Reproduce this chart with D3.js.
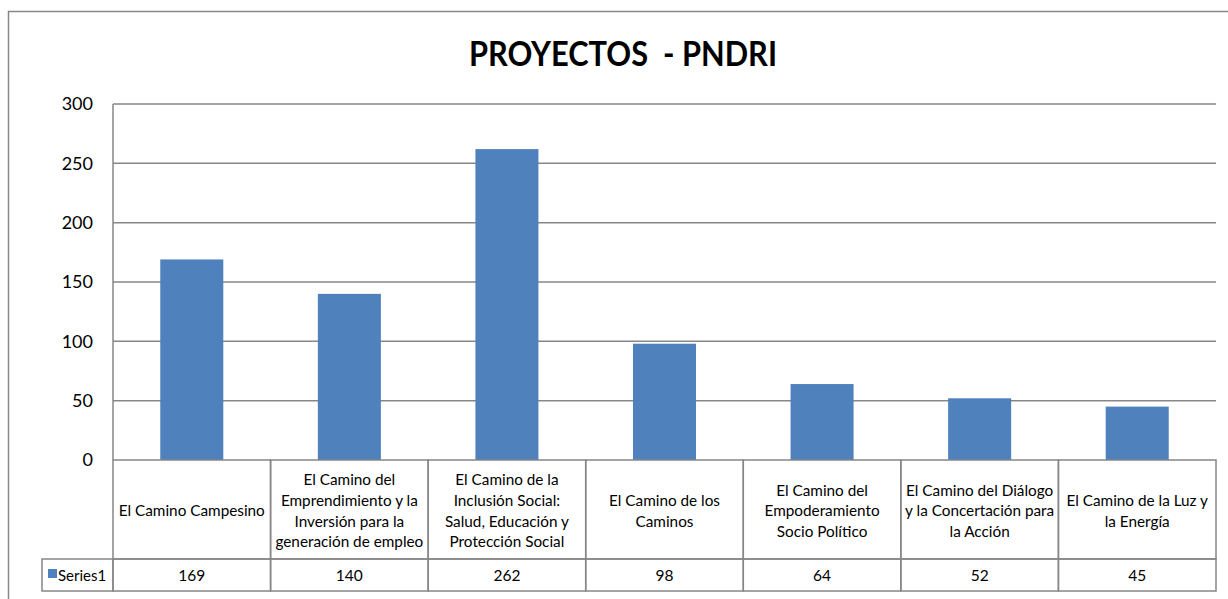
<!DOCTYPE html>
<html>
<head>
<meta charset="utf-8">
<script src="https://cdn.jsdelivr.net/npm/d3@7"></script>
<style>
  body { margin: 0; background: #fff; }
  svg { display: block; font-family: Lato, "Open Sans", sans-serif; }
</style>
</head>
<body>
<div id="chart"></div>
<script>
const title = "PROYECTOS  - PNDRI";
const seriesName = "Series1";
const categories = [
    "El Camino Campesino",
    "El Camino del Emprendimiento y la Inversión para la generación de empleo",
    "El Camino de la Inclusión Social: Salud, Educación y Protección Social",
    "El Camino de los Caminos",
    "El Camino del Empoderamiento Socio Político",
    "El Camino del Diálogo y la Concertación para la Acción",
    "El Camino de la Luz y la Energía"
];
// line breaks as they appear in the table
const categoryLines = [
    ["El Camino Campesino"],
    ["El Camino del", "Emprendimiento y la", "Inversión para la", "generación de empleo"],
    ["El Camino de la", "Inclusión Social:", "Salud, Educación y", "Protección Social"],
    ["El Camino de los", "Caminos"],
    ["El Camino del", "Empoderamiento", "Socio Político"],
    ["El Camino del Diálogo", "y la Concertación para", "la Acción"],
    ["El Camino de la Luz y", "la Energía"]
];
const values = [169, 140, 262, 98, 64, 52, 45];
const yTicks = [0, 50, 100, 150, 200, 250, 300];

const W = 1228, H = 599;
const plot = { left: 113, right: 1216, top: 104, bottom: 460 };
const catRowBottom = 559, valRowBottom = 591, legendLeft = 42;
const barColor = "#4f81bd";
const lineColor = "#878787";

const svg = d3.select("#chart").append("svg")
    .attr("width", W)
    .attr("height", H);

// outer chart frame (runs off the right and bottom edges)
svg.append("rect")
    .attr("x", 8.5).attr("y", 11.5)
    .attr("width", 1260).attr("height", 640)
    .attr("fill", "#fff")
    .attr("stroke", lineColor)
    .attr("stroke-width", 1.5);

svg.append("text")
    .attr("x", 623)
    .attr("y", 66)
    .attr("text-anchor", "middle")
    .attr("textLength", 308)
    .attr("lengthAdjust", "spacingAndGlyphs")
    .style("font-size", "34px")
    .style("font-weight", "bold")
    .style("white-space", "pre")
    .text(title);

const x = d3.scaleBand()
    .domain(categories)
    .range([plot.left, plot.right])
    .paddingInner(0.6)
    .paddingOuter(0.3);

const cell = d3.scaleBand()
    .domain(categories)
    .range([plot.left, plot.right])
    .padding(0);

const y = d3.scaleLinear()
    .domain([0, 300])
    .range([plot.bottom, plot.top]);

// gridlines
svg.append("g")
    .selectAll("line")
    .data(yTicks.filter(d => d > 0))
    .join("line")
    .attr("x1", plot.left).attr("x2", plot.right)
    .attr("y1", d => y(d)).attr("y2", d => y(d))
    .attr("stroke", lineColor)
    .attr("stroke-width", 1.5);

// y tick labels
svg.append("g")
    .selectAll("text")
    .data(yTicks)
    .join("text")
    .attr("x", 93)
    .attr("y", d => y(d))
    .attr("dy", "0.35em")
    .attr("text-anchor", "end")
    .style("font-size", "18px")
    .text(d => d);

// bars
svg.append("g")
    .selectAll("rect")
    .data(values)
    .join("rect")
    .attr("x", (d, i) => x(categories[i]))
    .attr("y", d => y(d))
    .attr("width", x.bandwidth())
    .attr("height", d => y(0) - y(d))
    .attr("fill", barColor);

// y axis line
svg.append("line")
    .attr("x1", plot.left).attr("x2", plot.left)
    .attr("y1", plot.top).attr("y2", plot.bottom)
    .attr("stroke", lineColor)
    .attr("stroke-width", 1.5);

// data table
const table = svg.append("g")
    .attr("fill", "none")
    .attr("stroke", lineColor)
    .attr("stroke-width", 1.5);

table.selectAll("rect.cat")
    .data(categories)
    .join("rect")
    .attr("class", "cat")
    .attr("x", d => cell(d))
    .attr("y", plot.bottom)
    .attr("width", cell.bandwidth())
    .attr("height", catRowBottom - plot.bottom);

table.selectAll("rect.val")
    .data(categories)
    .join("rect")
    .attr("class", "val")
    .attr("x", d => cell(d))
    .attr("y", catRowBottom)
    .attr("width", cell.bandwidth())
    .attr("height", valRowBottom - catRowBottom);

table.append("rect")
    .attr("x", legendLeft)
    .attr("y", catRowBottom)
    .attr("width", plot.left - legendLeft)
    .attr("height", valRowBottom - catRowBottom);

// category labels
const lineH = 20.7;
const catMid = 511;
svg.append("g")
    .selectAll("text")
    .data(categoryLines)
    .join("text")
    .attr("text-anchor", "middle")
    .style("font-size", "15.3px")
    .each(function(lines, i) {
        const cx = cell(categories[i]) + cell.bandwidth() / 2;
        const y0 = catMid - (lines.length - 1) * lineH / 2;
        d3.select(this).selectAll("tspan")
            .data(lines)
            .join("tspan")
            .attr("x", cx)
            .attr("y", (l, j) => y0 + j * lineH)
            .attr("dy", "0.35em")
            .text(l => l);
    });

// values row
const valMid = 576;
svg.append("g")
    .selectAll("text")
    .data(values)
    .join("text")
    .attr("x", (d, i) => cell(categories[i]) + cell.bandwidth() / 2)
    .attr("y", valMid)
    .attr("dy", "0.35em")
    .attr("text-anchor", "middle")
    .style("font-size", "15.5px")
    .text(d => d);

// legend key
svg.append("rect")
    .attr("x", 48).attr("y", 569)
    .attr("width", 9).attr("height", 9)
    .attr("fill", barColor);

svg.append("text")
    .attr("x", 58)
    .attr("y", valMid)
    .attr("dy", "0.35em")
    .style("font-size", "15px")
    .text(seriesName);
</script>
</body>
</html>
